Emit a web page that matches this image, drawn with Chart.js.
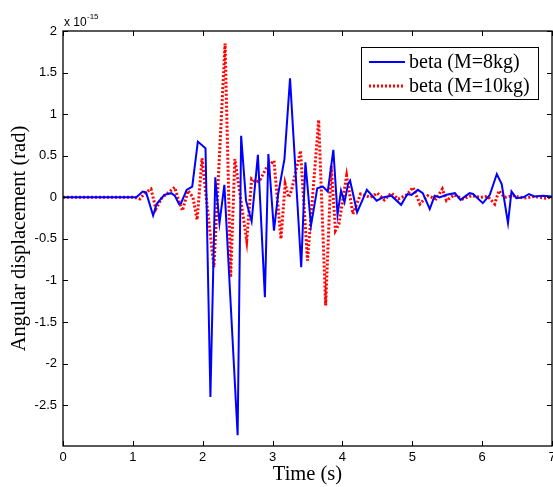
<!DOCTYPE html>
<html>
<head>
<meta charset="utf-8">
<script src="https://cdn.jsdelivr.net/npm/chart.js@4/dist/chart.umd.min.js"></script>
<style>
  html, body { margin: 0; padding: 0; background: #fff; }
  #wrap { width: 553px; height: 487px; }
</style>
</head>
<body>
<div id="wrap"><canvas id="angleChart" width="553" height="487"></canvas></div>
<script>
  // values in units of 1e-15 rad
  const timeM8 = [0, 1.05, 1.14, 1.19, 1.29, 1.34, 1.45, 1.55, 1.60, 1.66, 1.69, 1.77, 1.85, 1.93, 2.04,
    2.11, 2.18, 2.24, 2.31, 2.50, 2.55, 2.62, 2.70, 2.79, 2.89, 2.94, 3.02, 3.08, 3.17, 3.25,
    3.41, 3.47, 3.55, 3.64, 3.72, 3.79, 3.87, 3.93, 3.98, 4.03, 4.08, 4.11, 4.21, 4.35, 4.49,
    4.58, 4.70, 4.84, 4.93, 4.99, 5.08, 5.15, 5.25, 5.32, 5.39, 5.49, 5.61, 5.69, 5.82, 5.87,
    6.01, 6.11, 6.21, 6.28, 6.37, 6.42, 6.49, 6.59, 6.67, 6.75, 6.87, 7.0];
  const betaM8 = [0, 0, 0.07, 0.06, -0.22, -0.08, 0.03, 0.05, 0.02, -0.08, -0.07, 0.09, 0.13, 0.67, 0.59,
    -2.40, 0.24, -0.31, 0.15, -2.86, 0.74, -0.04, -0.29, 0.51, -1.20, 0.52, -0.40, 0.04, 0.46, 1.43,
    -0.84, 0.42, -0.34, 0.11, 0.13, 0.07, 0.57, -0.21, 0.08, -0.06, 0.16, 0.20, -0.18, 0.09, -0.04,
    0, 0.02, -0.09, 0.04, 0.03, 0.09, 0.05, -0.14, 0.02, 0, 0.03, 0.05, -0.03, 0.05, 0.04,
    -0.07, 0.03, 0.28, 0.16, -0.31, 0.07, -0.01, 0, 0.04, 0.01, 0.02, 0.01];

  const timeM10 = [0, 1.02, 1.10, 1.17, 1.26, 1.33, 1.42, 1.50, 1.60, 1.66, 1.71, 1.79, 1.86, 1.92, 1.99,
    2.16, 2.32, 2.40, 2.46, 2.63, 2.70, 2.76, 2.82, 2.91, 3.02, 3.12, 3.18, 3.23, 3.27, 3.40,
    3.50, 3.66, 3.76, 3.84, 3.90, 3.95, 4.06, 4.15, 4.26, 4.40, 4.50, 4.60, 4.70, 4.80, 4.92,
    5.01, 5.11, 5.22, 5.34, 5.43, 5.49, 5.60, 5.72, 5.85, 5.98, 6.08, 6.18, 6.24, 6.32, 6.45,
    6.60, 6.75, 6.90, 7.0];
  const betaM10 = [0, 0, -0.02, 0.05, 0.10, -0.14, 0.0, 0.05, 0.12, -0.05, -0.16, 0.08, 0.0, -0.27, 0.47,
    -0.84, 1.85, -0.96, 0.46, -0.52, 0.22, 0.18, 0.21, 0.35, 0.44, -0.50, 0.16, 0.0, 0.08, 0.56,
    -0.76, 0.93, -1.30, 0.38, -0.40, -0.32, 0.26, -0.20, 0.04, 0.0, 0.05, -0.03, 0.05, -0.02, 0.03,
    0.12, -0.08, 0.02, -0.02, 0.10, -0.04, 0.03, -0.02, 0.02, 0.0, 0.01, -0.08, 0.08, 0.0, 0.02,
    -0.01, 0.01, -0.01, 0.0];

  const xTicks = [0, 1, 2, 3, 4, 5, 6, 7];
  const yTicks = [-2.5, -2, -1.5, -1, -0.5, 0, 0.5, 1, 1.5, 2];
  const seriesLabels = ['beta (M=8kg)', 'beta (M=10kg)'];

  const toPoints = (xs, ys) => xs.map((x, i) => ({ x: x, y: ys[i] }));
  const serif = '"Liberation Serif", "Times New Roman", serif';
  const sans = '"Liberation Sans", Arial, sans-serif';

  // box, inward tick marks, exponent and legend (MATLAB look)
  const matlabFrame = {
    id: 'matlabFrame',
    afterDraw(chart) {
      const ctx = chart.ctx;
      const a = chart.chartArea;
      const sx = chart.scales.x, sy = chart.scales.y;
      ctx.save();
      ctx.strokeStyle = '#000';
      ctx.lineWidth = 1;
      ctx.beginPath();
      xTicks.forEach(v => {
        const px = Math.round(sx.getPixelForValue(v)) + 0.5;
        ctx.moveTo(px, a.bottom); ctx.lineTo(px, a.bottom - 5);
        ctx.moveTo(px, a.top); ctx.lineTo(px, a.top + 5);
      });
      yTicks.forEach(v => {
        const py = Math.round(sy.getPixelForValue(v)) + 0.5;
        ctx.moveTo(a.left, py); ctx.lineTo(a.left + 5, py);
        ctx.moveTo(a.right, py); ctx.lineTo(a.right - 5, py);
      });
      ctx.stroke();
      ctx.lineWidth = 1.3;
      ctx.strokeRect(a.left, a.top, a.right - a.left, a.bottom - a.top);

      // exponent
      ctx.fillStyle = '#000';
      ctx.textBaseline = 'alphabetic';
      ctx.textAlign = 'left';
      ctx.font = '12px ' + sans;
      ctx.fillText('x 10', a.left + 1, a.top - 5);
      ctx.font = '8px ' + sans;
      ctx.fillText('-15', a.left + 24, a.top - 12);

      // legend
      const lx = 361, ly = 47, lw = 177, lh = 52;
      ctx.fillStyle = '#fff';
      ctx.fillRect(lx, ly, lw, lh);
      ctx.lineWidth = 1;
      ctx.strokeStyle = '#000';
      ctx.strokeRect(lx + 0.5, ly + 0.5, lw, lh);
      const rows = [62, 86];
      chart.data.datasets.forEach((ds, i) => {
        ctx.beginPath();
        ctx.strokeStyle = ds.borderColor;
        ctx.lineWidth = ds.borderWidth;
        ctx.setLineDash(ds.borderDash || []);
        ctx.moveTo(369, rows[i]); ctx.lineTo(405, rows[i]);
        ctx.stroke();
        ctx.setLineDash([]);
        ctx.fillStyle = '#000';
        ctx.font = '20px ' + serif;
        ctx.textBaseline = 'middle';
        ctx.fillText(ds.label, 409, rows[i] + 1);
      });
      ctx.restore();
    }
  };

  new Chart(document.getElementById('angleChart'), {
    type: 'line',
    data: {
      datasets: [{
        label: seriesLabels[0],
        data: toPoints(timeM8, betaM8),
        borderColor: '#0000ff',
        borderWidth: 2,
        pointRadius: 0,
        tension: 0
      }, {
        label: seriesLabels[1],
        data: toPoints(timeM10, betaM10),
        borderColor: '#ff0000',
        borderWidth: 3,
        borderDash: [2, 2],
        pointRadius: 0,
        tension: 0
      }]
    },
    options: {
      responsive: false,
      animation: false,
      events: [],
      layout: { padding: { top: 31, right: 1 } },
      plugins: { legend: { display: false }, tooltip: { enabled: false } },
      scales: {
        x: {
          type: 'linear',
          min: 0,
          max: 7,
          afterFit: s => { s.height = 41; s.paddingLeft = 0; s.paddingRight = 0; },
          afterBuildTicks: s => { s.ticks = xTicks.map(v => ({ value: v })); },
          grid: { display: false, drawTicks: false },
          border: { display: false },
          ticks: { color: '#000', padding: 4, maxRotation: 0, font: { family: sans, size: 13 },
                   callback: v => String(v) },
          title: { display: true, text: 'Time (s)', color: '#000', padding: 0,
                   font: { family: serif, size: 20.5 } }
        },
        y: {
          type: 'linear',
          min: -2.99,
          max: 2,
          afterFit: s => { s.width = 63; s.paddingTop = 0; s.paddingBottom = 0; },
          afterBuildTicks: s => { s.ticks = yTicks.map(v => ({ value: v })); },
          grid: { display: false, drawTicks: false },
          border: { display: false },
          ticks: { color: '#000', padding: 6, font: { family: sans, size: 13 },
                   callback: v => String(v) },
          title: { display: true, text: 'Angular displacement (rad)', color: '#000', padding: { top: 7, bottom: 0 },
                   font: { family: serif, size: 20.5 } }
        }
      }
    },
    plugins: [matlabFrame]
  });
</script>
</body>
</html>
